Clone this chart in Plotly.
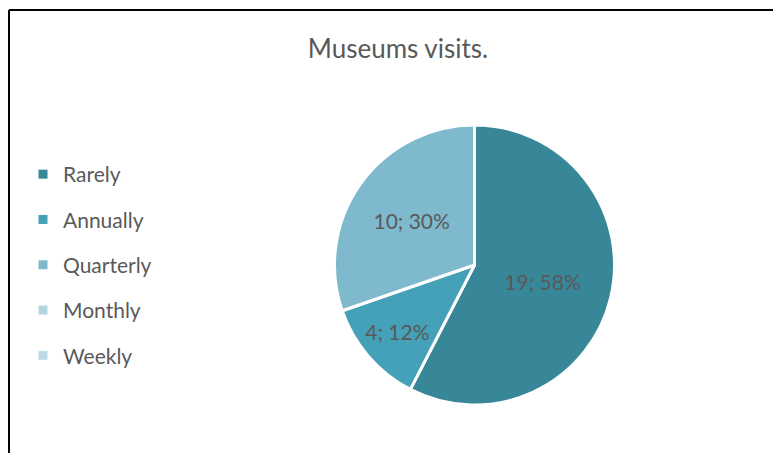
import plotly.graph_objects as go

categories = ["Rarely", "Annually", "Quarterly", "Monthly", "Weekly"]
values = [19, 4, 10, 0, 0]
colors = ["#388799", "#45A1B7", "#7EB9CD", "#B4D5E0", "#BCDAE5"]
title_text = "Museums visits."

W, H = 773, 453
font_family = "Lato, Carlito, 'Open Sans', sans-serif"
text_color = "#595959"

fig = go.Figure()

# pie
cx, cy, r = 474.5, 265, 140
fig.add_trace(go.Pie(
    labels=categories,
    values=values,
    sort=False,
    direction="clockwise",
    rotation=0,
    marker=dict(colors=colors, line=dict(color="white", width=3)),
    texttemplate="%{value}; %{percent:.0%}",
    textposition="inside",
    insidetextorientation="horizontal",
    textfont=dict(family=font_family, size=21, color=text_color),
    showlegend=False,
    hoverinfo="label+value+percent",
    domain=dict(x=[(cx - r) / W, (cx + r) / W], y=[(H - cy - r) / H, (H - cy + r) / H]),
))

# legend entries (one per category, separate groups for spacing)
for name, col in zip(categories, colors):
    fig.add_trace(go.Scatter(
        x=[None], y=[None], mode="markers", name=name,
        marker=dict(symbol="square", size=9, color=col),
        legendgroup=name, showlegend=True,
    ))

fig.update_layout(
    width=W, height=H,
    margin=dict(l=0, r=0, t=0, b=0),
    paper_bgcolor="white",
    plot_bgcolor="white",
    xaxis=dict(visible=False),
    yaxis=dict(visible=False),
    title=dict(text=title_text, x=398 / W, y=1 - 49 / H, xanchor="center", yanchor="middle",
               font=dict(family=font_family, size=26, color=text_color)),
    legend=dict(x=23 / W, y=1 - 154 / H, xanchor="left", yanchor="top",
                font=dict(family=font_family, size=21, color=text_color),
                tracegroupgap=15, itemwidth=30, bgcolor="rgba(0,0,0,0)"),
    shapes=[
        dict(type="line", xref="paper", yref="paper", x0=9 / W, x1=1, y0=1 - 10 / H, y1=1 - 10 / H,
             line=dict(color="black", width=2)),
        dict(type="line", xref="paper", yref="paper", x0=9 / W, x1=9 / W, y0=0, y1=1 - 10 / H,
             line=dict(color="black", width=2)),
    ],
)

fig.write_html("out.html")
